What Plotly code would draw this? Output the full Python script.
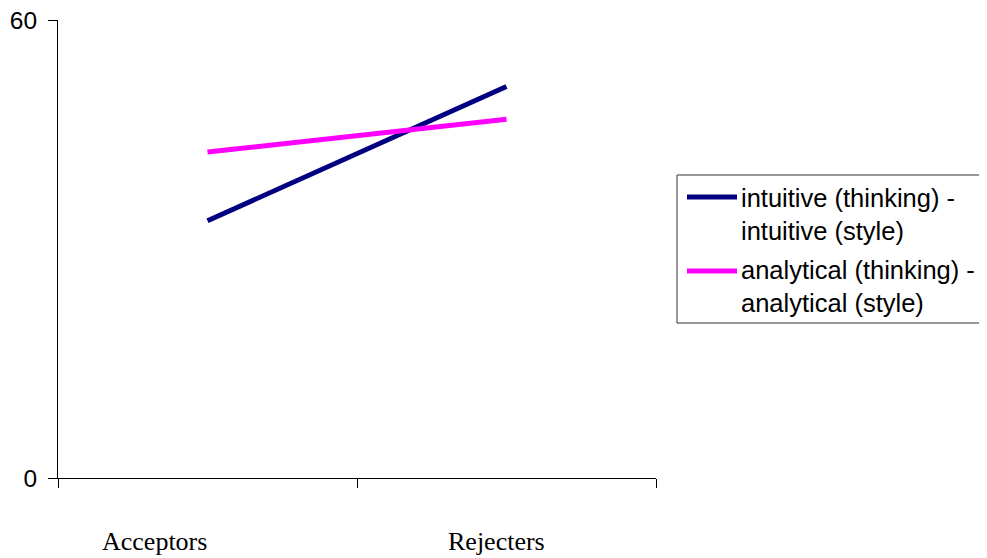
import plotly.graph_objects as go

categories = ["Acceptors", "Rejecters"]
cat_pos = [0.5, 1.5]
intuitive = [33.7, 51.3]
analytical = [42.7, 47.0]
series_names = ["intuitive (thinking) -<br>intuitive (style)",
                "analytical (thinking) -<br>analytical (style)"]
series_colors = ["#000080", "#FF00FF"]
y_ticks = [0, 60]

# the page body has an 8px margin, so the figure is laid out 8px smaller
OFF = 8
W, H = 987 - OFF, 558 - OFF
ML, MR, MT, MB = 58 - OFF, 331, 20 - OFF, 80
PW, PH = W - ML - MR, H - MT - MB


def px(sx):
    return (sx - OFF - ML) / PW


def py(sy):
    return (H - MB - (sy - OFF)) / PH


fig = go.Figure()
for vals, name, col in zip([intuitive, analytical], series_names, series_colors):
    fig.add_trace(go.Scatter(x=cat_pos, y=vals, mode="lines", name=name,
                             line=dict(color=col, width=5), showlegend=False))

# category labels (offset left of category centres, as in the original)
label_x = [0.323, 1.468]
for lx, c in zip(label_x, categories):
    fig.add_annotation(x=lx, y=py(541), xref="x", yref="paper", text=c, showarrow=False,
                       font=dict(family="Liberation Serif", size=26, color="black"),
                       xanchor="center", yanchor="middle")

# legend box drawn by hand
fig.add_shape(type="rect", xref="paper", yref="paper",
              x0=px(677), x1=px(1000), y0=py(323), y1=py(175),
              line=dict(color="#333333", width=1), fillcolor="white", layer="above")
legend_line_y = [197, 271]
legend_text_y = [214, 286.5]
for ly, ty, name, col in zip(legend_line_y, legend_text_y, series_names, series_colors):
    fig.add_shape(type="line", xref="paper", yref="paper",
                  x0=px(687), x1=px(737), y0=py(ly), y1=py(ly),
                  line=dict(color=col, width=5), layer="above")
    fig.add_annotation(x=px(739), y=py(ty), xref="paper", yref="paper", text=name,
                       showarrow=False, xanchor="left", yanchor="middle", align="left",
                       font=dict(family="Liberation Sans", size=25.5, color="black"))

fig.update_xaxes(range=[0, 2], tickvals=[0, 1, 2], ticktext=["", "", ""], ticks="outside",
                 ticklen=9, tickcolor="black", showline=True, linecolor="black", linewidth=1,
                 showgrid=False, zeroline=False, fixedrange=True)
fig.update_yaxes(range=[0, 60], tickvals=y_ticks, ticks="outside", ticklen=9, tickcolor="black",
                 showline=True, linecolor="black", linewidth=1, showgrid=True,
                 gridcolor="#dcdcdc", zeroline=False, ticklabelstandoff=6,
                 ticklabeloverflow="allow",
                 tickfont=dict(family="Liberation Sans", size=24.5, color="black"))

fig.update_layout(
    width=W, height=H,
    margin=dict(l=ML, r=MR, t=MT, b=MB, autoexpand=False),
    plot_bgcolor="white", paper_bgcolor="white",
    showlegend=False,
)

fig.write_html("out.html")
